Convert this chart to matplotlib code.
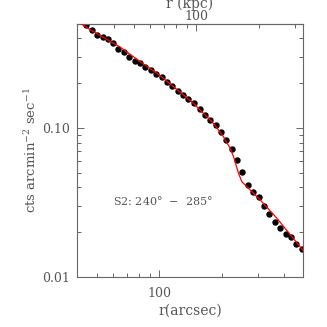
import matplotlib
matplotlib.use("Agg")
import matplotlib.pyplot as plt
from matplotlib.ticker import LogLocator, FormatStrFormatter, NullFormatter

# surface brightness profile, sector S2
r_arcsec = [44.2, 47.2, 50.2, 53.3, 56.3, 60.0, 63.4, 67.5, 71.6, 76.3,
            80.7, 85.6, 90.9, 96.4, 102.7, 109.3, 115.6, 122.7, 130.2, 138.1,
            146.6, 156.1, 165.0, 175.8, 186.5, 198.0, 210.0, 222.8, 236.5, 250.8,
            266.1, 283.6, 300.8, 319.4, 338.8, 359.4, 382.9, 406.1, 431.3, 457.5,
            485.3]
counts = [0.491, 0.455, 0.421, 0.406, 0.396, 0.370, 0.338, 0.322, 0.301, 0.283,
          0.274, 0.258, 0.245, 0.230, 0.221, 0.204, 0.191, 0.178, 0.167, 0.157,
          0.147, 0.134, 0.122, 0.113, 0.105, 0.0936, 0.0831, 0.0723, 0.0610, 0.0504,
          0.0414, 0.0374, 0.0343, 0.0300, 0.0265, 0.0233, 0.0212, 0.0194, 0.0186, 0.0167,
          0.0153]

# model curve
model_r = [40.0, 46.3, 64.6, 80.7, 100.8, 146.0, 182.4, 203.8, 219.6, 227.8,
           240.8, 250.0, 264.4, 306.5, 369.1, 494.7]
model_y = [0.523, 0.458, 0.350, 0.2795, 0.225, 0.1465, 0.1075, 0.0874, 0.0731, 0.0642,
           0.0497, 0.0436, 0.0404, 0.0329, 0.0248, 0.0150]

KPC_PER_ARCSEC = 0.665
GRAY = "#555555"

plt.rcParams["font.family"] = "DejaVu Serif"
plt.rcParams["mathtext.fontset"] = "dejavuserif"
plt.rcParams["font.size"] = 9

fig = plt.figure(figsize=(3.27, 3.27), dpi=100)
ax = fig.add_axes([0.2355, 0.1529, 0.6911, 0.7737])

ax.plot(r_arcsec, counts, "o", color="black", markersize=3.6, zorder=2)
ax.plot(model_r, model_y, "-", color="red", linewidth=0.9, zorder=3)

ax.set_xscale("log")
ax.set_yscale("log")
ax.set_xlim(40, 493)
ax.set_ylim(0.01, 0.5)

ax.xaxis.set_major_locator(LogLocator(base=10))
ax.xaxis.set_major_formatter(FormatStrFormatter("%d"))
ax.xaxis.set_minor_formatter(NullFormatter())
ax.yaxis.set_major_formatter(FormatStrFormatter("%.2f"))
ax.yaxis.set_minor_formatter(NullFormatter())

for s in ax.spines.values():
    s.set_color("#666666")
    s.set_linewidth(0.8)
ax.tick_params(which="both", direction="in", colors="#666666", labelcolor=GRAY,
               right=True, top=False, width=0.7)
ax.tick_params(which="major", length=5, pad=5)
ax.tick_params(axis="x", which="major", pad=7)
ax.tick_params(which="minor", length=3)

ax.set_xlabel("r(arcsec)", color=GRAY, fontsize=10, labelpad=3)
ax.set_ylabel("cts arcmin$^{-2}$ sec$^{-1}$", color=GRAY, fontsize=9.5, labelpad=2)

top = ax.secondary_xaxis("top", functions=(lambda x: x * KPC_PER_ARCSEC,
                                           lambda x: x / KPC_PER_ARCSEC))
top.xaxis.set_major_formatter(FormatStrFormatter("%d"))
top.xaxis.set_minor_formatter(NullFormatter())
top.tick_params(which="both", direction="in", colors="#666666", labelcolor=GRAY, width=0.7)
top.tick_params(which="major", length=5, pad=1)
top.tick_params(which="minor", length=3)
top.spines["top"].set_color("#666666")
top.set_xlabel("r (kpc)", color=GRAY, fontsize=10, labelpad=1)

ax.text(59.8, 0.0324, "S2: 240$\\degree$  $-$  285$\\degree$", color=GRAY,
        fontsize=8, va="center", ha="left")

fig.savefig("out.png", dpi=100)
